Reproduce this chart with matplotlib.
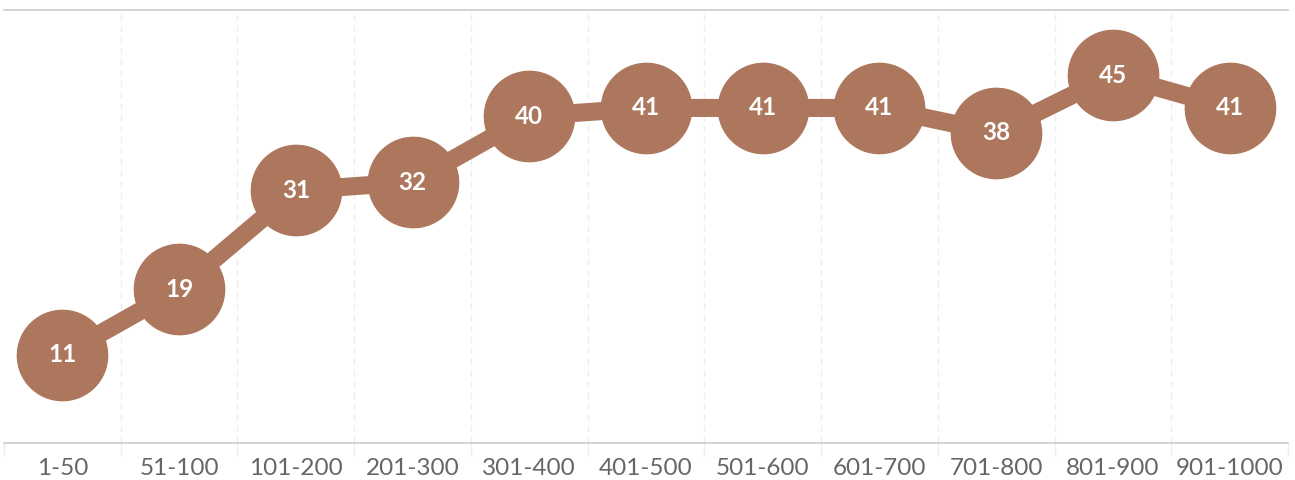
import numpy as np
import matplotlib.pyplot as plt
from matplotlib.ticker import FixedLocator

plt.rcParams['font.family'] = ['Lato', 'DejaVu Sans']

categories = ['1-50', '51-100', '101-200', '201-300', '301-400', '401-500',
              '501-600', '601-700', '701-800', '801-900', '901-1000']
values = [11, 19, 31, 32, 40, 41, 41, 41, 38, 45, 41]

color = '#ad775d'

fig = plt.figure(figsize=(12.95, 4.8), dpi=100)
ax = fig.add_axes([4 / 1295, 1 - 443 / 480, 1284 / 1295, 433 / 480])

x = np.arange(len(categories))
ax.plot(x, values, color=color, linewidth=13, marker='o', markersize=65,
        solid_capstyle='round', zorder=3)

for xi, v in zip(x, values):
    ax.text(xi, v, str(v), ha='center', va='center', color='white',
            fontsize=17.5, fontweight='bold', zorder=4)

ax.set_xlim(-0.5, len(categories) - 0.5)
ax.set_ylim(0.3, 52.9)

ax.set_xticks(x)
ax.set_xticklabels(categories, fontsize=17.5, color='#666666')
ax.tick_params(axis='x', which='major', length=0, pad=11)
ax.xaxis.set_minor_locator(FixedLocator(np.arange(-0.5, len(categories), 1.0)))
ax.tick_params(axis='x', which='minor', length=9, width=1, color='#eeeeee')
ax.set_yticks([])

# faint dashed separators between categories
for b in np.arange(0.5, len(categories) - 1, 1.0):
    ax.axvline(b, color='#eeeeee', linewidth=1, linestyle=(0, (5, 3)), zorder=0)

for side in ['left', 'right']:
    ax.spines[side].set_visible(False)
ax.spines['top'].set_color('#cccccc')
ax.spines['bottom'].set_color('#cccccc')
ax.spines['top'].set_linewidth(1.2)
ax.spines['bottom'].set_linewidth(1.2)

fig.savefig('out.png', dpi=100)
